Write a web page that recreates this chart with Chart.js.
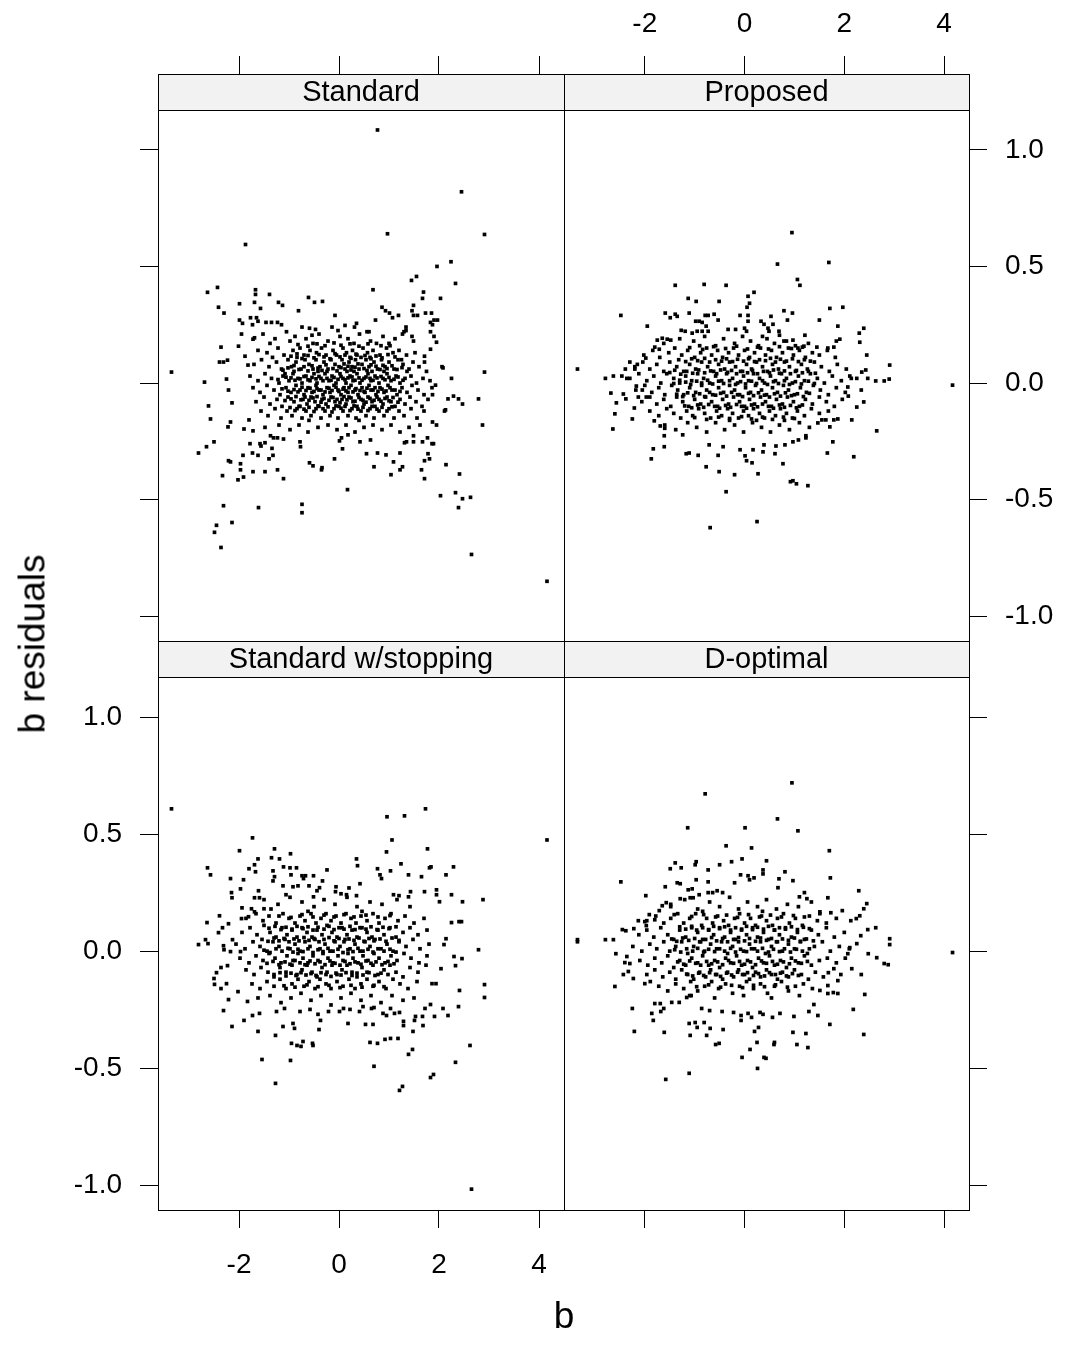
<!DOCTYPE html>
<html>
<head>
<meta charset="utf-8">
<script src="https://cdn.jsdelivr.net/npm/chart.js"></script>
<style>
body { margin: 0; background: #fff; }
#wrap { position: relative; width: 1065px; height: 1363px; overflow: hidden; }
#wrap canvas { position: absolute; left: 0; top: 0; }
.lab { position: absolute; font-family: "Liberation Sans", Arial, sans-serif; font-size: 37px; line-height: 1; color: #000; white-space: nowrap; }
#xlab { left: 564px; top: 1315px; transform: translate(-50%, -50%); }
#ylab { left: 32px; top: 644px; transform: translate(-50%, -50%) rotate(-90deg); }
</style>
</head>
<body>
<div id="wrap">
  <canvas id="c0" width="1065" height="1363"></canvas>
  <canvas id="c1" width="1065" height="1363"></canvas>
  <canvas id="c2" width="1065" height="1363"></canvas>
  <canvas id="c3" width="1065" height="1363"></canvas>
  <div class="lab" id="xlab">b</div>
  <div class="lab" id="ylab">b residuals</div>
</div>
<script>
// panel titles and axis ticks
const panelTitles = ['Standard', 'Proposed', 'Standard w/stopping', 'D-optimal'];
const xTicks = [-2, 0, 2, 4];
const yTicks = [-1, -0.5, 0, 0.5, 1];
const yTickLabels = ['-1.0', '-0.5', '0.0', '0.5', '1.0'];
const xRange = [-3.62, 4.5];
const yRange = [-1.106, 1.325];

// Standard : [b, residual]
const standardOuter = [
  [0.77,1.085],[2.45,0.82],[0.97,0.64],[2.91,0.637],[-1.87,0.594],[1.96,0.5],[2.24,0.52],[2.33,0.427],[1.45,0.44],[1.55,0.457],
  [0.68,0.4],[-2.63,0.389],[-2.43,0.41],[-1.67,0.4],[-1.67,0.38],[-1.39,0.38],[-2.41,0.325],[-2.3,0.3],[-1.99,0.34],[-1.69,0.346],
  [-1.57,0.32],[-1.21,0.346],[-1.13,0.333],[-0.81,0.31],[-0.61,0.367],[-0.49,0.346],[-0.33,0.35],[-0.08,0.29],[0.86,0.325],[0.93,0.31],
  [1.01,0.3],[1.07,0.28],[1.19,0.29],[0.73,0.27],[1.69,0.39],[1.67,0.363],[2.03,0.363],[1.49,0.333],[1.46,0.31],[1.49,0.29],
  [1.57,0.29],[1.73,0.3],[1.85,0.3],[1.9,0.27],[1.97,0.27],[1.83,0.26],[1.87,0.25],[1.83,0.22],[1.9,0.2],[1.95,0.175],
  [1.83,0.145],[1.71,0.115],[1.71,0.09],[2.06,0.07],[2.08,0.065],[2.91,0.047],[-3.35,0.047],[-2.36,0.154],[-2.39,0.09],[-2.31,0.09],
  [-2.23,0.098],[-2.01,0.158],[-1.95,0.21],[-1.99,0.27],[-1.93,0.256],[-1.77,0.28],[-1.73,0.25],[-1.65,0.28],[-1.62,0.265],[-1.46,0.26],
  [-1.35,0.26],[-1.23,0.26],[-1.15,0.25],[-1.72,0.188],[-1.69,0.194],[-1.88,0.115],[-1.82,0.077],[-0.74,0.24],[-0.59,0.235],[-0.47,0.23],
  [-0.54,0.205],[-0.14,0.24],[-0.02,0.225],[0.12,0.247],[0.31,0.24],[0.35,0.256],[0.56,0.22],[0.6,0.22],[1.34,0.24],[1.34,0.225],
  [1.27,0.21],[1.46,0.2],[1.49,0.18],
  [-2.69,0.004],[-2.25,0.017],[-2.21,-0.03],[-2.14,-0.085],[-2.61,-0.098],[-2.57,-0.154],[-2.22,-0.188],[-2.17,-0.167],[-2.5,-0.252],[-2.65,-0.273],
  [-2.81,-0.3],[-1.9,-0.197],[-1.72,-0.205],[-1.8,-0.158],[-1.78,-0.26],[-1.58,-0.26],[-1.48,-0.256],[-1.56,-0.27],[-1.34,-0.28],[-1.32,-0.31],
  [-1.4,-0.325],[-1.92,-0.31],[-1.73,-0.3],[-1.62,-0.31],[-2.21,-0.333],[-2.17,-0.338],[-1.97,-0.346],[-1.97,-0.372],[-2.33,-0.397],[-2.02,-0.415],
  [-1.91,-0.403],[-1.72,-0.38],[-1.48,-0.38],[-1.23,-0.372],[-1.11,-0.41],[-2.31,-0.526],[-1.61,-0.534],[-0.74,-0.52],[-0.74,-0.556],[-2.14,-0.598],
  [-2.45,-0.61],[-2.49,-0.64],[-2.36,-0.705],[0.17,-0.457],[-0.59,-0.342],[-0.52,-0.355],[-0.35,-0.372],[-0.34,-0.363],[-0.09,-0.325],[-0.77,-0.273],
  [-0.78,-0.252],[0.07,-0.282],[0.55,-0.303],[0.77,-0.3],[0.94,-0.308],[1.22,-0.3],[0.7,-0.359],[1.09,-0.338],[1.04,-0.393],[1.22,-0.372],
  [1.27,-0.359],[1.65,-0.372],[1.71,-0.41],[1.71,-0.333],[1.78,-0.303],[1.81,-0.325],[2.14,-0.35],[2.41,-0.39],[2.03,-0.483],[2.33,-0.47],
  [2.47,-0.496],[2.63,-0.49],[2.39,-0.534],[2.65,-0.735],[4.16,-0.85],[2.87,-0.18],[2.79,-0.068],[2.25,0.02],[2.18,-0.068],[2.29,-0.056],
  [2.39,-0.068],[2.47,-0.09],[2.11,-0.12],[2.13,-0.115],[1.93,-0.009],[1.87,-0.05],[1.95,-0.18],[1.87,-0.167],[1.49,-0.226],[1.49,-0.252],
  [1.31,-0.256],[1.35,-0.252],[1.67,-0.252],[1.77,-0.235],[1.86,-0.26],[1.89,-0.26],[0.42,-0.252],[0.63,-0.244],[0.18,-0.222],[0.01,-0.248],
  [0.05,-0.235],[-1.37,-0.226],[-1.31,-0.235],[-1.23,-0.235],[-1.11,-0.24]
];
const standardCore = [
  [-1.52,0.21],[-1.28,0.19],[-1.05,0.22],[-0.88,0.2],[-0.66,0.19],[-0.4,0.21],[-0.22,0.18],[0.02,0.2],[0.18,0.19],[0.41,0.21],
  [0.63,0.18],[0.88,0.2],[1.12,0.19],[1.3,0.22],[-1.38,0.17],[-0.98,0.18],[-0.52,0.17],[0.3,0.17],[0.75,0.17],[1.02,0.16],
  [-1.62,0.14],[-1.44,0.13],[-1.22,0.15],[-1.1,0.12],[-0.92,0.14],[-0.78,0.15],[-0.7,0.12],[-0.58,0.14],[-0.45,0.13],[-0.35,0.15],
  [-0.26,0.12],[-0.12,0.14],[-0.05,0.12],[0.08,0.15],[0.15,0.13],[0.27,0.14],[0.36,0.12],[0.48,0.15],[0.57,0.13],[0.68,0.14],
  [0.82,0.12],[0.95,0.15],[1.08,0.13],[1.2,0.14],[1.35,0.12],[1.52,0.13],[-1.33,0.11],[-0.84,0.11],[0.22,0.11],[0.62,0.11],[1.25,0.1],
  [-1.7,0.08],[-1.55,0.1],[-1.4,0.07],[-1.25,0.09],[-1.15,0.06],[-1.02,0.1],[-0.95,0.07],[-0.86,0.09],[-0.76,0.06],[-0.68,0.1],
  [-0.6,0.08],[-0.52,0.06],[-0.46,0.1],[-0.38,0.07],[-0.3,0.09],[-0.22,0.06],[-0.16,0.1],[-0.08,0.08],[0.0,0.07],[0.06,0.1],
  [0.12,0.06],[0.2,0.09],[0.26,0.07],[0.33,0.1],[0.4,0.06],[0.46,0.08],[0.54,0.1],[0.6,0.07],[0.7,0.09],[0.77,0.06],
  [0.85,0.1],[0.92,0.07],[1.0,0.09],[1.1,0.06],[1.18,0.1],[1.28,0.08],[1.4,0.06],[1.48,0.09],[1.6,0.07],[1.75,0.05],
  [-0.9,0.05],[-0.42,0.05],[0.16,0.05],[0.66,0.05],[-1.08,0.04],
  [-1.78,0.03],[-1.62,0.01],[-1.48,0.04],[-1.35,0.02],[-1.2,0.0],[-1.12,0.03],[-1.0,0.01],[-0.92,0.04],[-0.82,0.02],[-0.74,0.0],
  [-0.66,0.03],[-0.58,0.01],[-0.5,0.04],[-0.44,0.0],[-0.36,0.02],[-0.28,0.04],[-0.2,0.01],[-0.14,0.03],[-0.06,0.0],[0.02,0.04],
  [0.08,0.02],[0.14,0.0],[0.22,0.03],[0.28,0.01],[0.36,0.04],[0.42,0.0],[0.5,0.02],[0.58,0.04],[0.64,0.01],[0.72,0.03],
  [0.8,0.0],[0.88,0.02],[0.96,0.04],[1.04,0.01],[1.14,0.03],[1.22,0.0],[1.32,0.02],[1.44,0.03],[1.55,0.0],[1.68,0.02],
  [1.82,0.01],[-0.24,0.05],[0.3,0.05],[0.9,0.05],[1.36,0.05],
  [-1.72,-0.02],[-1.58,-0.04],[-1.44,-0.01],[-1.3,-0.03],[-1.18,-0.05],[-1.06,-0.02],[-0.96,-0.04],[-0.86,-0.01],[-0.78,-0.03],[-0.7,-0.05],
  [-0.62,-0.02],[-0.54,-0.04],[-0.46,-0.01],[-0.4,-0.03],[-0.32,-0.05],[-0.24,-0.02],[-0.18,-0.04],[-0.1,-0.01],[-0.02,-0.03],[0.04,-0.05],
  [0.1,-0.02],[0.18,-0.04],[0.24,-0.01],[0.32,-0.03],[0.38,-0.05],[0.46,-0.02],[0.52,-0.04],[0.6,-0.01],[0.68,-0.03],[0.74,-0.05],
  [0.82,-0.02],[0.9,-0.04],[0.98,-0.01],[1.06,-0.03],[1.16,-0.05],[1.26,-0.02],[1.36,-0.04],[1.46,-0.01],[1.58,-0.03],[1.7,-0.05],[1.86,-0.02],
  [-1.66,-0.08],[-1.5,-0.06],[-1.38,-0.09],[-1.24,-0.07],[-1.14,-0.1],[-1.02,-0.06],[-0.9,-0.08],[-0.8,-0.1],[-0.72,-0.07],[-0.64,-0.09],
  [-0.56,-0.06],[-0.48,-0.08],[-0.4,-0.1],[-0.34,-0.07],[-0.26,-0.09],[-0.16,-0.06],[-0.08,-0.08],[0.0,-0.1],[0.06,-0.07],[0.14,-0.09],
  [0.2,-0.06],[0.28,-0.08],[0.36,-0.1],[0.44,-0.07],[0.5,-0.09],[0.58,-0.06],[0.66,-0.08],[0.72,-0.1],[0.8,-0.07],[0.88,-0.09],
  [0.96,-0.06],[1.04,-0.08],[1.12,-0.1],[1.22,-0.07],[1.32,-0.09],[1.42,-0.06],[1.54,-0.08],[1.66,-0.1],[1.78,-0.07],
  [-1.56,-0.12],[-1.42,-0.14],[-1.28,-0.11],[-1.16,-0.15],[-1.04,-0.12],[-0.94,-0.14],[-0.84,-0.11],[-0.74,-0.15],[-0.66,-0.12],[-0.56,-0.14],
  [-0.46,-0.11],[-0.36,-0.15],[-0.28,-0.12],[-0.18,-0.14],[-0.1,-0.11],[-0.02,-0.15],[0.08,-0.12],[0.18,-0.14],[0.26,-0.11],[0.34,-0.15],
  [0.44,-0.12],[0.54,-0.14],[0.62,-0.11],[0.7,-0.15],[0.8,-0.12],[0.9,-0.14],[1.0,-0.11],[1.1,-0.15],[1.2,-0.12],[1.3,-0.14],
  [1.44,-0.11],[1.56,-0.15],[1.7,-0.12],[-0.6,-0.16],[0.4,-0.16],
  [-1.48,-0.19],[-1.2,-0.18],[-0.98,-0.2],[-0.8,-0.18],[-0.62,-0.21],[-0.42,-0.19],[-0.22,-0.18],[-0.04,-0.2],[0.14,-0.18],[0.32,-0.21],
  [0.5,-0.19],[0.68,-0.18],[0.86,-0.2],[1.04,-0.18],[1.22,-0.21],[1.4,-0.19],[1.62,-0.18]
];
const standardFill = [
  [-0.96,0.115],[-0.84,0.125],[-0.74,0.105],[-0.62,0.118],[-0.5,0.108],[-0.4,0.122],[-0.3,0.112],[-0.18,0.104],[-0.08,0.126],[0.02,0.112],
  [0.12,0.12],[0.24,0.106],[0.34,0.124],[0.44,0.11],[0.52,0.118],[0.64,0.104],[0.74,0.116],[0.86,0.108],[0.98,0.122],[1.12,0.112],
  [-1.12,0.055],[-1.02,0.065],[-0.9,0.075],[-0.8,0.058],[-0.7,0.07],[-0.62,0.052],[-0.54,0.074],[-0.42,0.064],[-0.34,0.054],[-0.26,0.078],
  [-0.12,0.062],[-0.04,0.052],[0.04,0.066],[0.1,0.082],[0.18,0.072],[0.24,0.056],[0.32,0.068],[0.38,0.082],[0.5,0.062],[0.56,0.054],
  [0.64,0.078],[0.74,0.072],[0.82,0.058],[0.88,0.076],[0.96,0.062],[1.06,0.074],[1.16,0.058],[1.26,0.066],
  [-1.22,0.015],[-1.06,0.025],[-0.96,0.022],[-0.88,0.012],[-0.78,0.018],[-0.7,0.028],[-0.62,0.014],[-0.54,0.024],[-0.46,0.018],[-0.4,0.028],
  [-0.32,0.01],[-0.24,0.02],[-0.16,0.012],[-0.1,0.024],[-0.02,0.016],[0.04,0.028],[0.12,0.014],[0.18,0.022],[0.26,0.026],[0.32,0.012],
  [0.4,0.022],[0.46,0.012],[0.54,0.026],[0.62,0.02],[0.68,0.012],[0.76,0.022],[0.84,0.028],[0.92,0.014],[1.0,0.024],[1.1,0.016],[1.18,0.026],[1.28,0.012],
  [-1.14,-0.025],[-1.02,-0.035],[-0.9,-0.028],[-0.82,-0.038],[-0.74,-0.018],[-0.66,-0.032],[-0.58,-0.022],[-0.5,-0.036],[-0.44,-0.024],[-0.36,-0.03],
  [-0.28,-0.038],[-0.2,-0.022],[-0.14,-0.032],[-0.06,-0.018],[0.0,-0.036],[0.08,-0.026],[0.14,-0.034],[0.2,-0.02],[0.28,-0.038],[0.34,-0.024],
  [0.42,-0.032],[0.5,-0.036],[0.56,-0.022],[0.64,-0.03],[0.72,-0.02],[0.78,-0.036],[0.86,-0.026],[0.94,-0.034],[1.02,-0.02],[1.12,-0.03],[1.22,-0.036],
  [-1.08,-0.075],[-0.96,-0.068],[-0.86,-0.058],[-0.76,-0.072],[-0.68,-0.06],[-0.6,-0.074],[-0.52,-0.064],[-0.44,-0.058],[-0.36,-0.082],[-0.3,-0.066],
  [-0.2,-0.074],[-0.12,-0.062],[-0.04,-0.07],[0.02,-0.084],[0.1,-0.058],[0.16,-0.072],[0.24,-0.064],[0.32,-0.078],[0.4,-0.062],[0.48,-0.074],
  [0.54,-0.082],[0.62,-0.066],[0.7,-0.074],[0.76,-0.06],[0.84,-0.078],[0.92,-0.066],[1.0,-0.076],[1.08,-0.062],[1.18,-0.082],
  [-0.98,-0.105],[-0.88,-0.118],[-0.78,-0.1],[-0.7,-0.112],[-0.6,-0.104],[-0.5,-0.122],[-0.42,-0.098],[-0.32,-0.11],[-0.22,-0.102],[-0.14,-0.124],
  [-0.06,-0.098],[0.04,-0.108],[0.12,-0.1],[0.22,-0.118],[0.3,-0.098],[0.38,-0.112],[0.48,-0.104],[0.58,-0.118],[0.66,-0.1],[0.76,-0.112],
  [0.86,-0.104],[0.96,-0.12],[1.06,-0.102],
  [-0.82,0.165],[-0.62,0.158],[-0.44,0.168],[-0.28,0.16],[-0.1,0.172],[0.04,0.162],[0.22,0.168],[0.4,0.158],[0.58,0.168],[0.84,0.16],[1.0,0.17]
];

// Proposed
const proposedOuter = [
  [0.95,0.645],[0.66,0.51],[1.69,0.517],[1.06,0.444],[1.11,0.419],[-1.39,0.419],[-0.81,0.423],[-0.37,0.419],[0.07,0.372],[0.19,0.389],
  [-1.13,0.363],[-0.97,0.35],[-0.51,0.35],[0.1,0.342],[0.05,0.325],[-2.48,0.29],[-1.59,0.3],[-1.49,0.28],[-1.39,0.295],[-1.35,0.286],
  [-1.11,0.3],[-0.79,0.29],[-0.73,0.29],[-0.61,0.295],[-0.53,0.27],[-0.09,0.29],[0.07,0.29],[0.07,0.265],[0.53,0.286],[0.57,0.252],
  [0.79,0.31],[0.96,0.3],[0.86,0.27],[1.71,0.32],[1.97,0.325],[1.5,0.27],[-1.95,0.244],[1.87,0.244],[1.21,0.205],[2.39,0.235],
  [2.3,0.214],[2.31,0.175],[2.45,0.12],[1.91,0.188],[1.84,0.18],[1.79,0.154],[1.67,0.15],[1.45,0.154],[2.91,0.077],[2.43,0.056],
  [2.35,0.047],[-3.35,0.06],[-2.39,0.06],[-2.3,0.09],[-2.15,0.08],[-1.98,0.107],[-2.2,0.06],[-1.8,0.154],[-1.75,0.184],[-1.65,0.192],
  [-1.55,0.188],[-1.48,0.184],[-1.71,0.145],[-1.27,0.226],[-1.19,0.222],[-1.05,0.214],[-0.95,0.222],[-0.85,0.222],[-0.73,0.222],[-0.98,0.265],
  [-0.91,0.265],[-0.85,0.26],[-0.77,0.244],[-0.33,0.23],[-0.18,0.23],[0.0,0.235],[0.04,0.222],[0.33,0.265],[0.39,0.252],[0.47,0.235],
  [0.49,0.222],[0.69,0.222],[0.7,0.205],[0.79,0.18],[0.97,0.184],[1.07,0.15],[1.19,0.158],
  [4.17,-0.009],[-2.79,0.02],[-2.63,0.03],[-2.46,0.03],[-2.36,0.02],[-2.68,-0.043],[-2.57,-0.085],[-2.6,-0.132],[-2.64,-0.197],[-2.25,-0.154],
  [-2.21,-0.107],[-2.43,-0.047],[-2.38,-0.068],[-2.17,-0.013],[-2.13,-0.06],[-1.97,-0.06],[-2.05,-0.03],[-1.81,-0.162],[-1.69,-0.184],[-1.6,-0.194],
  [-1.61,-0.226],[-1.83,-0.282],[-1.87,-0.325],[-1.61,-0.273],[-1.24,-0.222],[-1.17,-0.303],[-1.11,-0.3],[-0.93,-0.31],[-0.71,-0.265],[-0.77,-0.359],
  [-0.51,-0.38],[-0.2,-0.393],[-0.37,-0.466],[-0.53,-0.31],[-0.43,-0.273],[-0.69,-0.62],[0.25,-0.594],[0.27,-0.389],[0.15,-0.342],[0.04,-0.333],
  [0.01,-0.312],[-0.09,-0.286],[0.17,-0.286],[0.37,-0.295],[0.39,-0.265],[0.61,-0.303],[0.63,-0.27],[0.77,-0.346],[0.81,-0.265],[0.92,-0.423],
  [0.97,-0.419],[1.04,-0.432],[1.27,-0.44],[0.97,-0.252],[1.08,-0.244],[1.23,-0.235],[1.23,-0.226],[1.66,-0.3],[1.77,-0.252],[1.71,-0.188],
  [2.19,-0.316],[2.65,-0.205],[2.15,-0.158],[1.87,-0.154],[1.79,-0.158],[1.63,-0.158],[1.55,-0.158],[1.47,-0.171],[2.25,-0.103],[2.39,-0.081],
  [2.34,-0.03],[2.08,-0.056],[2.07,-0.017],[2.47,0.02],[2.63,0.009],[2.8,0.009],[2.9,0.017],[2.25,0.02],[2.11,0.03]
];
const proposedCore = [
  [-1.62,0.17],[-1.3,0.19],[-1.02,0.18],[-0.8,0.2],[-0.58,0.16],[-0.42,0.19],[-0.2,0.17],[-0.04,0.2],[0.12,0.18],[0.28,0.16],
  [0.45,0.19],[0.6,0.17],[0.84,0.18],[1.02,0.16],[1.28,0.17],[-0.9,0.16],[0.36,0.2],
  [-2.02,0.12],[-1.84,0.14],[-1.7,0.11],[-1.52,0.13],[-1.4,0.15],[-1.26,0.12],[-1.14,0.14],[-1.0,0.11],[-0.88,0.13],[-0.76,0.15],
  [-0.66,0.12],[-0.54,0.14],[-0.44,0.11],[-0.32,0.13],[-0.22,0.15],[-0.12,0.12],[0.0,0.14],[0.1,0.11],[0.2,0.13],[0.32,0.15],
  [0.42,0.12],[0.54,0.14],[0.64,0.11],[0.76,0.13],[0.88,0.15],[0.98,0.12],[1.1,0.14],[1.22,0.11],[1.36,0.13],[1.5,0.12],[1.66,0.14],[1.82,0.11],
  [-2.2,0.07],[-2.04,0.09],[-1.9,0.06],[-1.76,0.08],[-1.62,0.05],[-1.5,0.09],[-1.36,0.07],[-1.22,0.05],[-1.1,0.08],[-0.98,0.06],
  [-0.86,0.09],[-0.74,0.07],[-0.62,0.05],[-0.52,0.08],[-0.4,0.06],[-0.3,0.09],[-0.18,0.07],[-0.08,0.05],[0.04,0.08],[0.14,0.06],
  [0.24,0.09],[0.36,0.07],[0.46,0.05],[0.56,0.08],[0.68,0.06],[0.8,0.09],[0.9,0.07],[1.02,0.05],[1.14,0.08],[1.26,0.06],
  [1.4,0.09],[1.54,0.07],[1.7,0.05],[1.86,0.08],[2.04,0.06],
  [-2.3,0.02],[-2.12,0.04],[-1.96,0.01],[-1.82,0.03],[-1.68,0.0],[-1.56,0.04],[-1.42,0.02],[-1.3,0.0],[-1.18,0.03],[-1.06,0.01],
  [-0.94,0.04],[-0.82,0.02],[-0.7,0.0],[-0.58,0.03],[-0.46,0.01],[-0.36,0.04],[-0.24,0.02],[-0.14,0.0],[-0.02,0.03],[0.08,0.01],
  [0.18,0.04],[0.3,0.02],[0.4,0.0],[0.52,0.03],[0.62,0.01],[0.74,0.04],[0.84,0.02],[0.96,0.0],[1.08,0.03],[1.2,0.01],
  [1.32,0.04],[1.46,0.02],[1.6,0.0],[1.76,0.03],[1.94,0.01],[2.14,0.02],
  [-2.18,-0.03],[-2.0,-0.01],[-1.86,-0.04],[-1.72,-0.02],[-1.6,-0.05],[-1.46,-0.01],[-1.34,-0.03],[-1.22,-0.05],[-1.1,-0.02],[-0.98,-0.04],
  [-0.86,-0.01],[-0.76,-0.03],[-0.64,-0.05],[-0.52,-0.02],[-0.42,-0.04],[-0.3,-0.01],[-0.2,-0.03],[-0.1,-0.05],[0.02,-0.02],[0.12,-0.04],
  [0.22,-0.01],[0.34,-0.03],[0.44,-0.05],[0.56,-0.02],[0.66,-0.04],[0.78,-0.01],[0.88,-0.03],[1.0,-0.05],[1.12,-0.02],[1.24,-0.04],
  [1.38,-0.01],[1.52,-0.03],[1.68,-0.05],[1.84,-0.02],[2.02,-0.04],
  [-2.06,-0.08],[-1.9,-0.06],[-1.76,-0.09],[-1.62,-0.07],[-1.48,-0.1],[-1.36,-0.06],[-1.24,-0.08],[-1.12,-0.1],[-1.0,-0.07],[-0.88,-0.09],
  [-0.78,-0.06],[-0.66,-0.08],[-0.54,-0.1],[-0.44,-0.07],[-0.32,-0.09],[-0.22,-0.06],[-0.1,-0.08],[0.0,-0.1],[0.1,-0.07],[0.2,-0.09],
  [0.32,-0.06],[0.42,-0.08],[0.54,-0.1],[0.64,-0.07],[0.76,-0.09],[0.86,-0.06],[0.98,-0.08],[1.1,-0.1],[1.22,-0.07],[1.36,-0.09],
  [1.5,-0.06],[1.64,-0.08],[1.8,-0.1],[1.96,-0.07],
  [-1.9,-0.12],[-1.72,-0.14],[-1.56,-0.11],[-1.42,-0.13],[-1.28,-0.15],[-1.16,-0.12],[-1.04,-0.14],[-0.92,-0.11],[-0.8,-0.13],[-0.68,-0.15],
  [-0.56,-0.12],[-0.46,-0.14],[-0.34,-0.11],[-0.24,-0.13],[-0.12,-0.15],[-0.02,-0.12],[0.08,-0.14],[0.18,-0.11],[0.3,-0.13],[0.4,-0.15],
  [0.5,-0.12],[0.62,-0.14],[0.72,-0.11],[0.84,-0.13],[0.96,-0.15],[1.06,-0.12],[1.2,-0.14],[1.34,-0.11],[1.5,-0.13],[1.68,-0.12],
  [-1.6,-0.18],[-1.38,-0.2],[-1.14,-0.17],[-0.96,-0.19],[-0.76,-0.21],[-0.58,-0.17],[-0.4,-0.2],[-0.2,-0.18],[-0.02,-0.21],[0.16,-0.17],
  [0.34,-0.19],[0.52,-0.21],[0.7,-0.18],[0.9,-0.2],[1.1,-0.17],[1.3,-0.19],[-0.3,-0.16],[0.24,-0.16],[0.8,-0.16]
];
const proposedFill = [
  [-1.32,0.1],[-1.18,0.092],[-1.06,0.104],[-0.94,0.096],[-0.8,0.106],[-0.7,0.09],[-0.58,0.1],[-0.46,0.094],[-0.36,0.104],[-0.24,0.092],
  [-0.14,0.102],[-0.02,0.094],[0.08,0.104],[0.2,0.092],[0.3,0.1],[0.42,0.096],[0.52,0.106],[0.62,0.09],[0.72,0.102],[0.84,0.094],
  [0.96,0.104],[1.08,0.092],[1.2,0.1],[1.32,0.094],
  [-1.5,0.045],[-1.4,0.055],[-1.28,0.038],[-1.16,0.05],[-1.04,0.042],[-0.92,0.056],[-0.8,0.044],[-0.68,0.052],[-0.56,0.04],[-0.48,0.056],
  [-0.34,0.046],[-0.26,0.054],[-0.16,0.04],[-0.04,0.05],[0.06,0.044],[0.16,0.054],[0.26,0.04],[0.38,0.05],[0.5,0.044],[0.58,0.056],
  [0.7,0.042],[0.8,0.052],[0.92,0.04],[1.04,0.054],[1.16,0.044],[1.28,0.05],[1.42,0.042],
  [-1.42,-0.002],[-1.3,0.012],[-1.18,0.004],[-1.08,-0.006],[-0.96,0.008],[-0.86,0.0],[-0.74,0.012],[-0.64,-0.004],[-0.52,0.008],[-0.42,-0.002],
  [-0.3,0.01],[-0.18,-0.006],[-0.08,0.006],[0.02,-0.004],[0.14,0.008],[0.24,-0.002],[0.36,0.01],[0.46,-0.006],[0.58,0.006],[0.68,-0.002],
  [0.8,0.01],[0.9,-0.006],[1.02,0.006],[1.14,-0.004],[1.28,0.008],[1.4,-0.002],
  [-1.36,-0.048],[-1.24,-0.058],[-1.14,-0.042],[-1.02,-0.054],[-0.9,-0.046],[-0.8,-0.058],[-0.7,-0.04],[-0.58,-0.052],[-0.48,-0.044],[-0.36,-0.056],
  [-0.26,-0.04],[-0.14,-0.05],[-0.04,-0.058],[0.08,-0.044],[0.18,-0.054],[0.28,-0.042],[0.4,-0.052],[0.5,-0.06],[0.6,-0.046],[0.72,-0.056],
  [0.82,-0.042],[0.94,-0.054],[1.06,-0.046],[1.18,-0.058],[1.3,-0.044],
  [-1.2,-0.098],[-1.06,-0.106],[-0.94,-0.094],[-0.82,-0.104],[-0.72,-0.092],[-0.6,-0.1],[-0.5,-0.108],[-0.38,-0.096],[-0.28,-0.104],[-0.16,-0.092],
  [-0.06,-0.1],[0.04,-0.108],[0.14,-0.094],[0.26,-0.102],[0.36,-0.09],[0.48,-0.1],[0.58,-0.108],[0.7,-0.094],[0.8,-0.104],[0.92,-0.096],
  [1.04,-0.106],[1.16,-0.094],
  [-1.1,0.152],[-0.84,0.144],[-0.62,0.156],[-0.38,0.148],[-0.16,0.158],[0.06,0.146],[0.26,0.154],[0.48,0.146],[0.7,0.156],[0.94,0.148],[1.16,0.154],
  [-1.0,-0.148],[-0.76,-0.156],[-0.52,-0.146],[-0.3,-0.152],[-0.06,-0.144],[0.14,-0.154],[0.36,-0.146],[0.56,-0.156],[0.78,-0.146],[1.0,-0.152]
];

// Standard w/stopping
const stoppingOuter = [
  [-3.35,0.608],[4.16,0.475],[0.96,0.574],[1.31,0.578],[1.73,0.608],[1.06,0.475],[0.95,0.424],[1.77,0.437],[-1.73,0.484],[-1.99,0.429],
  [-1.29,0.437],[-0.97,0.416],[-2.63,0.356],[-2.57,0.326],[-1.62,0.394],[-1.69,0.369],[-1.67,0.339],[-1.8,0.352],[-1.35,0.399],[-1.19,0.394],
  [-1.32,0.343],[-1.11,0.36],[-0.98,0.356],[-0.85,0.356],[-0.96,0.326],[-1.29,0.318],[-1.32,0.3],[-2.17,0.31],[-1.91,0.305],[-2.15,0.25],
  [-1.97,0.266],[-2.14,0.228],[-0.74,0.322],[-0.67,0.322],[-0.51,0.322],[-0.71,0.31],[-0.33,0.3],[-0.24,0.347],[0.35,0.394],[0.37,0.365],
  [0.42,0.288],[0.77,0.352],[0.82,0.326],[0.85,0.31],[1.03,0.343],[1.24,0.373],[1.39,0.326],[1.65,0.318],[1.81,0.356],[1.84,0.36],
  [2.29,0.36],[2.14,0.326],[2.88,0.22],[2.47,0.211],[2.25,0.241],[1.95,0.262],[1.95,0.241],[2.01,0.211],[1.71,0.254],[1.43,0.254],
  [1.39,0.232],[1.2,0.237],[1.09,0.241],[2.25,0.122],[2.4,0.126],[2.45,0.126],[2.14,0.053],[-2.64,0.122],[-2.39,0.151],[-2.21,0.117],
  [-2.33,0.1],[-2.41,0.079],[-2.67,0.049],[-2.13,0.049],[-0.06,0.275],[0.04,0.245],[0.2,0.27],[0.15,0.241],[0.35,0.237],[-0.07,0.254],
  [-0.6,0.279],[-0.44,0.258],[-0.39,0.271],[-0.51,0.232],[-1.06,0.241],[-0.92,0.275],[-0.82,0.279],[-1.12,0.279],[-1.61,0.258],[-1.69,0.228],
  [-1.59,0.228],[-1.94,0.185],[-1.75,0.181],[-1.69,0.168],[-1.5,0.181],[-1.95,0.139],[-1.81,0.147],
  [2.65,-1.017],[-1.27,-0.565],[-1.54,-0.463],[-0.97,-0.467],[-0.95,-0.394],[-0.84,-0.403],[-0.76,-0.407],[-0.72,-0.386],[-0.53,-0.394],[-0.52,-0.403],
  [-1.27,-0.36],[-1.62,-0.343],[-2.14,-0.322],[-1.9,-0.296],[-2.31,-0.254],[-2.21,-0.207],[-2.5,-0.117],[-2.49,-0.142],[-2.36,-0.16],[-2.25,-0.139],
  [-2.45,-0.092],[-2.36,-0.07],[-2.23,-0.062],[-2.02,-0.173],[-1.83,-0.215],[-2.81,0.028],[-2.62,0.032],[-2.31,0.023],[-2.17,-0.002],[-1.97,-0.002],
  [-2.3,0.006],[-1.73,-0.275],[-1.59,-0.266],[-1.25,-0.258],[-1.09,-0.245],[-1.12,-0.322],[-0.92,-0.309],[-0.89,-0.33],[-0.78,-0.258],[-0.58,-0.249],
  [-0.42,-0.27],[-0.37,-0.296],[-0.4,-0.335],[-0.21,-0.258],[0.18,-0.309],[0.53,-0.313],[0.68,-0.313],[0.7,-0.492],[0.62,-0.39],[0.77,-0.394],
  [0.92,-0.377],[1.03,-0.373],[1.18,-0.373],[1.21,-0.595],[1.27,-0.578],[1.39,-0.441],[1.47,-0.42],[1.83,-0.54],[1.89,-0.527],[2.33,-0.475],
  [2.62,-0.403],[2.91,-0.143],[2.91,-0.198],[2.79,0.006],[2.41,-0.168],[2.39,-0.237],[2.18,-0.275],[2.08,-0.245],[1.91,-0.279],[1.67,-0.279],
  [1.68,-0.318],[1.48,-0.343],[1.29,-0.3],[1.29,-0.318],[1.51,-0.296],[1.53,-0.279],[1.72,-0.245],[1.83,-0.228],[2.3,-0.023],[2.46,-0.032],
  [2.33,-0.062],[2.1,0.028],[2.04,-0.075],[1.94,-0.139],[1.86,-0.139],[0.88,-0.266],[0.95,-0.275],[1.11,-0.266],[1.21,-0.262],[1.03,-0.245],
  [0.01,-0.258],[0.09,-0.245],[0.22,-0.249],[0.41,-0.258],[0.48,-0.237],[0.65,-0.245],[0.7,-0.241]
];
const stoppingCore = [
  [-1.5,0.22],[-1.22,0.2],[-0.98,0.23],[-0.74,0.21],[-0.5,0.19],[-0.3,0.22],[-0.08,0.2],[0.16,0.23],[0.36,0.19],[0.62,0.21],
  [0.86,0.2],[1.16,0.22],[1.42,0.19],[-1.36,0.18],[-0.62,0.17],[0.46,0.17],
  [-1.86,0.14],[-1.66,0.16],[-1.52,0.13],[-1.4,0.15],[-1.26,0.12],[-1.12,0.16],[-1.0,0.14],[-0.88,0.12],[-0.78,0.15],[-0.68,0.13],
  [-0.56,0.16],[-0.46,0.12],[-0.36,0.14],[-0.26,0.16],[-0.16,0.13],[-0.06,0.15],[0.04,0.12],[0.14,0.16],[0.24,0.14],[0.34,0.12],
  [0.44,0.15],[0.56,0.13],[0.68,0.16],[0.8,0.12],[0.92,0.14],[1.04,0.16],[1.18,0.13],[1.32,0.15],[1.5,0.12],[1.7,0.14],
  [-1.94,0.08],[-1.78,0.1],[-1.64,0.07],[-1.5,0.11],[-1.38,0.08],[-1.26,0.06],[-1.14,0.1],[-1.04,0.07],[-0.94,0.09],[-0.84,0.06],
  [-0.74,0.1],[-0.64,0.08],[-0.54,0.06],[-0.44,0.09],[-0.34,0.07],[-0.24,0.11],[-0.14,0.08],[-0.04,0.06],[0.06,0.1],[0.16,0.07],
  [0.26,0.09],[0.36,0.06],[0.46,0.1],[0.56,0.08],[0.66,0.06],[0.78,0.09],[0.9,0.07],[1.02,0.1],[1.14,0.06],[1.28,0.08],
  [1.42,0.1],[1.58,0.07],[1.76,0.09],
  [-2.06,0.03],[-1.88,0.01],[-1.72,0.04],[-1.58,0.02],[-1.44,0.0],[-1.32,0.04],[-1.2,0.02],[-1.08,0.05],[-0.98,0.01],[-0.88,0.03],
  [-0.78,0.0],[-0.68,0.04],[-0.58,0.02],[-0.48,0.05],[-0.38,0.01],[-0.28,0.03],[-0.18,0.0],[-0.08,0.04],[0.02,0.02],[0.12,0.05],
  [0.22,0.01],[0.32,0.03],[0.42,0.0],[0.52,0.04],[0.62,0.02],[0.72,0.05],[0.84,0.01],[0.96,0.03],[1.08,0.0],[1.2,0.04],
  [1.34,0.02],[1.48,0.05],[1.62,0.01],[1.8,0.03],
  [-1.98,-0.03],[-1.8,-0.05],[-1.66,-0.02],[-1.52,-0.04],[-1.4,-0.01],[-1.28,-0.03],[-1.16,-0.05],[-1.04,-0.02],[-0.92,-0.04],[-0.82,-0.01],
  [-0.72,-0.03],[-0.62,-0.05],[-0.52,-0.02],[-0.42,-0.04],[-0.32,-0.01],[-0.22,-0.03],[-0.12,-0.05],[-0.02,-0.02],[0.08,-0.04],[0.18,-0.01],
  [0.28,-0.03],[0.38,-0.05],[0.48,-0.02],[0.58,-0.04],[0.7,-0.01],[0.8,-0.03],[0.92,-0.05],[1.04,-0.02],[1.16,-0.04],[1.3,-0.01],
  [1.44,-0.03],[1.6,-0.05],[1.76,-0.02],
  [-1.86,-0.08],[-1.7,-0.1],[-1.56,-0.07],[-1.42,-0.09],[-1.3,-0.11],[-1.18,-0.07],[-1.06,-0.09],[-0.94,-0.06],[-0.84,-0.1],[-0.74,-0.08],
  [-0.64,-0.06],[-0.54,-0.09],[-0.44,-0.11],[-0.34,-0.07],[-0.24,-0.09],[-0.14,-0.06],[-0.04,-0.1],[0.06,-0.08],[0.16,-0.06],[0.26,-0.09],
  [0.36,-0.11],[0.46,-0.07],[0.56,-0.09],[0.68,-0.06],[0.78,-0.1],[0.9,-0.08],[1.02,-0.06],[1.14,-0.09],[1.28,-0.11],[1.42,-0.07],
  [1.58,-0.09],[1.74,-0.06],
  [-1.74,-0.14],[-1.58,-0.16],[-1.44,-0.13],[-1.3,-0.15],[-1.18,-0.12],[-1.06,-0.16],[-0.94,-0.14],[-0.82,-0.12],[-0.7,-0.15],[-0.6,-0.13],
  [-0.48,-0.16],[-0.38,-0.12],[-0.26,-0.14],[-0.16,-0.16],[-0.04,-0.13],[0.08,-0.15],[0.2,-0.12],[0.32,-0.16],[0.44,-0.14],[0.56,-0.12],
  [0.68,-0.15],[0.8,-0.13],[0.94,-0.16],[1.08,-0.12],[1.22,-0.14],[1.38,-0.16],[1.56,-0.13],
  [-1.62,-0.2],[-1.38,-0.19],[-1.16,-0.22],[-0.96,-0.2],[-0.76,-0.18],[-0.56,-0.21],[-0.36,-0.19],[-0.16,-0.23],[0.04,-0.2],[0.24,-0.18],
  [0.44,-0.21],[0.64,-0.19],[0.84,-0.22],[1.06,-0.19],[1.28,-0.21],[1.5,-0.2]
];
const stoppingFill = [
  [-1.4,0.098],[-1.28,0.106],[-1.16,0.092],[-1.06,0.102],[-0.94,0.094],[-0.84,0.106],[-0.72,0.096],[-0.62,0.104],[-0.52,0.09],[-0.42,0.102],
  [-0.3,0.094],[-0.2,0.106],[-0.1,0.092],[0.0,0.1],[0.1,0.094],[0.22,0.106],[0.32,0.092],[0.42,0.1],[0.54,0.094],[0.64,0.104],
  [0.76,0.092],[0.88,0.102],[1.0,0.096],[1.14,0.104],
  [-1.54,0.05],[-1.42,0.042],[-1.3,0.056],[-1.2,0.044],[-1.1,0.054],[-1.0,0.04],[-0.9,0.052],[-0.8,0.044],[-0.7,0.058],[-0.6,0.046],
  [-0.5,0.054],[-0.4,0.04],[-0.3,0.05],[-0.2,0.058],[-0.1,0.044],[0.0,0.054],[0.1,0.04],[0.2,0.052],[0.3,0.046],[0.4,0.056],
  [0.5,0.042],[0.6,0.054],[0.7,0.044],[0.82,0.052],[0.94,0.042],[1.06,0.056],[1.2,0.046],
  [-1.5,0.004],[-1.38,-0.006],[-1.26,0.01],[-1.14,0.0],[-1.02,0.012],[-0.92,-0.004],[-0.82,0.008],[-0.72,-0.002],[-0.62,0.01],[-0.52,-0.006],
  [-0.42,0.006],[-0.32,-0.002],[-0.22,0.012],[-0.12,0.0],[-0.02,0.008],[0.08,-0.006],[0.18,0.006],[0.28,-0.002],[0.38,0.012],[0.48,0.0],
  [0.58,0.008],[0.68,-0.004],[0.78,0.01],[0.9,0.0],[1.02,0.008],[1.14,-0.004],
  [-1.44,-0.052],[-1.32,-0.044],[-1.2,-0.058],[-1.08,-0.046],[-0.98,-0.056],[-0.88,-0.04],[-0.78,-0.05],[-0.68,-0.058],[-0.58,-0.042],[-0.48,-0.054],
  [-0.38,-0.046],[-0.28,-0.058],[-0.18,-0.042],[-0.08,-0.052],[0.02,-0.06],[0.12,-0.044],[0.22,-0.054],[0.32,-0.046],[0.44,-0.056],[0.54,-0.042],
  [0.64,-0.052],[0.74,-0.046],[0.86,-0.058],[0.98,-0.044],[1.1,-0.054],
  [-1.3,-0.1],[-1.18,-0.092],[-1.06,-0.106],[-0.96,-0.094],[-0.86,-0.104],[-0.76,-0.092],[-0.66,-0.102],[-0.56,-0.096],[-0.46,-0.104],[-0.36,-0.092],
  [-0.26,-0.1],[-0.16,-0.108],[-0.06,-0.094],[0.04,-0.102],[0.14,-0.092],[0.26,-0.104],[0.36,-0.094],[0.48,-0.102],[0.6,-0.092],[0.72,-0.104],
  [0.84,-0.094],[0.98,-0.1],
  [-1.2,0.15],[-0.96,0.144],[-0.74,0.156],[-0.52,0.146],[-0.3,0.154],[-0.1,0.146],[0.1,0.156],[0.3,0.146],[0.54,0.154],[0.78,0.146],[1.02,0.152],
  [-1.1,-0.148],[-0.88,-0.154],[-0.64,-0.144],[-0.42,-0.152],[-0.2,-0.146],[0.02,-0.156],[0.24,-0.146],[0.46,-0.154],[0.7,-0.146],[0.9,-0.152]
];

// D-optimal
const doptOuter = [
  [0.95,0.719],[-0.79,0.672],[0.66,0.565],[-1.14,0.527],[0.01,0.527],[1.07,0.514],[-0.37,0.45],[0.14,0.441],[1.7,0.429],[-1.39,0.377],
  [-0.97,0.382],[-0.99,0.369],[-1.49,0.352],[-1.27,0.356],[-0.73,0.347],[-0.5,0.369],[-0.26,0.382],[-0.05,0.394],[0.44,0.386],[-2.48,0.296],
  [-1.98,0.237],[-1.59,0.275],[-1.35,0.292],[-1.29,0.288],[-1.13,0.262],[-1.05,0.266],[-0.97,0.305],[-0.73,0.296],[-0.2,0.292],[-0.08,0.326],
  [0.07,0.322],[0.19,0.313],[0.1,0.305],[0.37,0.347],[0.37,0.33],[0.69,0.309],[0.67,0.271],[0.81,0.339],[0.97,0.301],[1.72,0.313],
  [1.67,0.228],[2.29,0.258],[1.96,0.173],[2.13,0.13],[2.24,0.139],[2.31,0.151],[2.39,0.181],[2.45,0.203],[1.2,0.25],[1.1,0.232],
  [1.25,0.224],[1.51,0.168],[1.51,0.16],[1.73,0.164],[2.33,0.066],[2.47,0.092],[2.63,0.1],[2.91,0.053],[-2.45,0.092],[-2.38,0.087],
  [-2.22,0.096],[-2.13,0.13],[-2.0,0.126],[-1.97,0.109],[-1.91,0.156],[-1.8,0.134],[-1.71,0.173],[-1.65,0.194],[-1.57,0.207],[-1.48,0.19],
  [-1.41,0.156],[-1.29,0.224],[-1.09,0.228],[-1.03,0.228],[-0.91,0.241],[-0.73,0.25],[-0.64,0.25],[-0.55,0.258],[-0.44,0.25],[-3.35,0.049],
  [-2.79,0.049],[-2.63,0.049],
  [4.17,-0.006],[-3.35,0.04],[-1.58,-0.548],[-1.11,-0.522],[0.26,-0.501],[-0.05,-0.454],[0.39,-0.454],[0.43,-0.458],[0.11,-0.42],[0.25,-0.39],
  [0.6,-0.39],[0.59,-0.399],[-0.58,-0.399],[-0.51,-0.394],[-0.43,-0.335],[-0.76,-0.36],[-1.09,-0.36],[-1.11,-0.309],[-0.99,-0.305],[-0.95,-0.326],
  [-0.81,-0.305],[-0.69,-0.33],[-2.21,-0.343],[-1.61,-0.347],[-1.83,-0.296],[-1.86,-0.266],[-1.68,-0.258],[-1.62,-0.245],[-1.69,-0.224],[-1.8,-0.224],
  [-2.25,-0.245],[-2.6,-0.151],[-2.23,-0.117],[-2.43,-0.1],[-2.33,-0.087],[-2.58,-0.011],[-2.36,-0.023],[-2.4,-0.049],[-2.3,-0.053],[-1.46,-0.219],
  [-1.31,-0.219],[-1.16,-0.198],[-1.07,-0.19],[-0.86,-0.245],[-0.7,-0.254],[-0.45,-0.258],[-0.22,-0.262],[-0.07,-0.275],[-0.07,-0.296],[0.07,-0.266],
  [0.14,-0.283],[0.2,-0.343],[0.28,-0.326],[0.31,-0.262],[0.37,-0.27],[0.56,-0.283],[0.71,-0.266],[0.97,-0.347],[1.23,-0.352],[1.05,-0.399],
  [1.27,-0.412],[0.99,-0.279],[1.29,-0.258],[1.47,-0.275],[1.71,-0.313],[1.39,-0.228],[2.39,-0.356],[2.18,-0.249],[2.41,-0.185],[2.15,-0.075],
  [2.34,-0.1],[2.48,-0.011],[2.65,-0.028],[2.8,-0.053],[2.88,-0.058],[2.91,0.028],[2.25,0.032],[2.11,0.015],[2.07,-0.011],[1.87,-0.181],
  [1.78,-0.177],[1.67,-0.181],[1.51,-0.168],[1.67,-0.147],[1.87,-0.126],[1.93,-0.1],[1.79,-0.075],[1.68,-0.092],[-2.0,-0.139],[-1.89,-0.13]
];
const doptCore = [
  [-1.48,0.2],[-1.2,0.22],[-0.94,0.18],[-0.7,0.21],[-0.5,0.19],[-0.3,0.23],[-0.12,0.18],[0.06,0.21],[0.26,0.19],[0.44,0.22],
  [0.64,0.18],[0.86,0.2],[1.08,0.19],[1.34,0.21],[-0.84,0.17],[0.36,0.17],
  [-1.96,0.13],[-1.78,0.15],[-1.62,0.12],[-1.48,0.14],[-1.34,0.16],[-1.22,0.12],[-1.1,0.14],[-0.98,0.16],[-0.86,0.11],[-0.76,0.14],
  [-0.64,0.12],[-0.54,0.15],[-0.42,0.13],[-0.32,0.11],[-0.2,0.14],[-0.1,0.16],[0.0,0.12],[0.12,0.14],[0.22,0.11],[0.34,0.15],
  [0.44,0.13],[0.56,0.11],[0.66,0.14],[0.78,0.16],[0.9,0.12],[1.02,0.14],[1.16,0.11],[1.3,0.15],[1.46,0.13],[1.64,0.12],[1.84,0.14],
  [-2.12,0.07],[-1.96,0.09],[-1.82,0.06],[-1.68,0.1],[-1.54,0.07],[-1.42,0.05],[-1.3,0.09],[-1.18,0.06],[-1.06,0.1],[-0.94,0.08],
  [-0.84,0.05],[-0.72,0.09],[-0.62,0.07],[-0.5,0.1],[-0.4,0.06],[-0.28,0.08],[-0.18,0.05],[-0.06,0.09],[0.04,0.07],[0.16,0.1],
  [0.26,0.06],[0.38,0.08],[0.48,0.05],[0.6,0.09],[0.7,0.07],[0.82,0.1],[0.94,0.06],[1.06,0.08],[1.2,0.05],[1.34,0.09],
  [1.48,0.07],[1.64,0.1],[1.8,0.06],[2.0,0.08],
  [-2.24,0.02],[-2.06,0.0],[-1.9,0.03],[-1.76,0.01],[-1.62,0.04],[-1.5,0.0],[-1.38,0.02],[-1.26,0.04],[-1.14,-0.01],[-1.02,0.02],
  [-0.9,0.04],[-0.8,0.0],[-0.68,0.03],[-0.56,0.01],[-0.46,0.04],[-0.34,-0.01],[-0.24,0.02],[-0.12,0.04],[-0.02,0.0],[0.1,0.03],
  [0.2,0.01],[0.32,0.04],[0.42,-0.01],[0.54,0.02],[0.64,0.04],[0.76,0.0],[0.88,0.03],[1.0,0.01],[1.12,0.04],[1.26,-0.01],
  [1.4,0.02],[1.56,0.04],[1.72,0.0],[1.9,0.02],[2.1,0.01],
  [-2.1,-0.04],[-1.94,-0.06],[-1.8,-0.03],[-1.66,-0.05],[-1.54,-0.02],[-1.42,-0.07],[-1.3,-0.04],[-1.18,-0.06],[-1.06,-0.03],[-0.94,-0.05],
  [-0.84,-0.02],[-0.72,-0.06],[-0.6,-0.04],[-0.5,-0.07],[-0.38,-0.03],[-0.28,-0.05],[-0.16,-0.02],[-0.06,-0.06],[0.06,-0.04],[0.16,-0.07],
  [0.28,-0.03],[0.38,-0.05],[0.5,-0.02],[0.6,-0.06],[0.72,-0.04],[0.84,-0.07],[0.94,-0.03],[1.08,-0.05],[1.2,-0.02],[1.34,-0.06],
  [1.5,-0.04],[1.66,-0.03],[1.84,-0.05],[2.02,-0.03],
  [-1.96,-0.1],[-1.8,-0.08],[-1.64,-0.11],[-1.5,-0.09],[-1.38,-0.12],[-1.26,-0.08],[-1.14,-0.1],[-1.02,-0.12],[-0.9,-0.09],[-0.78,-0.11],
  [-0.68,-0.08],[-0.56,-0.1],[-0.44,-0.12],[-0.34,-0.09],[-0.22,-0.11],[-0.12,-0.08],[0.0,-0.1],[0.1,-0.12],[0.22,-0.09],[0.32,-0.11],
  [0.44,-0.08],[0.54,-0.1],[0.66,-0.12],[0.76,-0.09],[0.88,-0.11],[1.0,-0.08],[1.14,-0.1],[1.28,-0.12],[1.42,-0.09],[1.58,-0.11],
  [-1.72,-0.15],[-1.54,-0.17],[-1.38,-0.14],[-1.22,-0.16],[-1.08,-0.13],[-0.94,-0.17],[-0.8,-0.15],[-0.66,-0.13],[-0.52,-0.16],[-0.38,-0.14],
  [-0.24,-0.18],[-0.1,-0.15],[0.04,-0.13],[0.18,-0.16],[0.32,-0.14],[0.46,-0.18],[0.6,-0.15],[0.74,-0.13],[0.88,-0.17],[1.02,-0.15],
  [1.18,-0.14],[1.36,-0.16],[-1.1,-0.19],[-0.6,-0.2],[-0.02,-0.19],[0.54,-0.2],[1.1,-0.19]
];
const doptFill = [
  [-1.3,0.104],[-1.18,0.094],[-1.06,0.106],[-0.96,0.09],[-0.84,0.1],[-0.72,0.092],[-0.62,0.106],[-0.5,0.096],[-0.4,0.104],[-0.28,0.09],
  [-0.18,0.1],[-0.06,0.094],[0.04,0.106],[0.16,0.092],[0.26,0.102],[0.38,0.094],[0.48,0.106],[0.6,0.09],[0.7,0.1],[0.82,0.094],
  [0.94,0.104],[1.06,0.092],[1.18,0.102],[1.3,0.096],
  [-1.46,0.052],[-1.36,0.042],[-1.24,0.056],[-1.12,0.046],[-1.0,0.054],[-0.88,0.04],[-0.78,0.05],[-0.66,0.058],[-0.56,0.044],[-0.44,0.054],
  [-0.34,0.04],[-0.22,0.05],[-0.12,0.058],[0.0,0.044],[0.1,0.054],[0.22,0.042],[0.32,0.056],[0.44,0.046],[0.54,0.054],[0.66,0.04],
  [0.76,0.052],[0.88,0.046],[1.0,0.056],[1.12,0.042],[1.24,0.052],[1.38,0.044],
  [-1.4,0.006],[-1.28,-0.004],[-1.16,0.01],[-1.04,0.0],[-0.94,0.012],[-0.82,-0.004],[-0.72,0.008],[-0.6,-0.002],[-0.5,0.01],[-0.4,0.0],
  [-0.28,0.012],[-0.18,-0.004],[-0.08,0.008],[0.04,-0.002],[0.14,0.01],[0.26,0.0],[0.36,0.012],[0.48,-0.004],[0.58,0.008],[0.7,-0.002],
  [0.8,0.01],[0.92,-0.004],[1.04,0.008],[1.16,0.0],[1.3,0.01],
  [-1.34,-0.046],[-1.22,-0.056],[-1.1,-0.042],[-0.98,-0.052],[-0.88,-0.06],[-0.76,-0.044],[-0.66,-0.054],[-0.54,-0.046],[-0.44,-0.058],[-0.32,-0.04],
  [-0.22,-0.052],[-0.1,-0.044],[0.0,-0.056],[0.12,-0.046],[0.22,-0.058],[0.34,-0.042],[0.44,-0.052],[0.56,-0.044],[0.66,-0.056],[0.78,-0.046],
  [0.9,-0.054],[1.02,-0.042],[1.14,-0.052],[1.26,-0.044],
  [-1.16,-0.098],[-1.04,-0.106],[-0.92,-0.094],[-0.82,-0.104],[-0.7,-0.092],[-0.58,-0.1],[-0.48,-0.108],[-0.36,-0.094],[-0.26,-0.102],[-0.14,-0.09],
  [-0.04,-0.1],[0.06,-0.092],[0.18,-0.104],[0.28,-0.096],[0.4,-0.106],[0.5,-0.092],[0.62,-0.1],[0.72,-0.094],[0.84,-0.106],[0.96,-0.096],[1.08,-0.104],
  [-1.06,0.148],[-0.82,0.156],[-0.58,0.146],[-0.36,0.154],[-0.14,0.144],[0.08,0.156],[0.3,0.146],[0.52,0.154],[0.74,0.146],[0.98,0.152],[1.2,0.146],
  [-0.96,-0.152],[-0.72,-0.144],[-0.48,-0.154],[-0.26,-0.146],[-0.04,-0.156],[0.18,-0.146],[0.4,-0.152],[0.62,-0.144],[0.86,-0.154]
];

const FONT = '"Liberation Sans", Arial, Helvetica, sans-serif';
const STRIP_H = 36;
const W = 1065, H = 1363;
const X_AXIS_H = 70, Y_AXIS_W = 90;

// strip + panel frame
const stripPlugin = {
  id: 'strip',
  afterDraw(chart, args, opts) {
    const { ctx, chartArea: a } = chart;
    ctx.save();
    ctx.fillStyle = '#f2f2f2';
    ctx.fillRect(a.left, a.top, a.right - a.left, STRIP_H);
    ctx.strokeStyle = '#000';
    ctx.lineWidth = 1;
    ctx.beginPath();
    ctx.moveTo(a.left, a.top + STRIP_H + 0.5);
    ctx.lineTo(a.right, a.top + STRIP_H + 0.5);
    ctx.stroke();
    ctx.strokeRect(a.left + 0.5, a.top + 0.5, a.right - a.left, a.bottom - a.top);
    ctx.fillStyle = '#000';
    ctx.font = '29px ' + FONT;
    ctx.textAlign = 'center';
    ctx.textBaseline = 'middle';
    ctx.fillText(opts.title, (a.left + a.right) / 2, a.top + STRIP_H / 2 + 1);
    ctx.restore();
  }
};

function xAxis(pos, showLabels) {
  return {
    type: 'linear', position: pos, min: xRange[0], max: xRange[1],
    afterBuildTicks: s => { s.ticks = xTicks.map(v => ({ value: v })); },
    afterFit: s => { s.height = showLabels ? X_AXIS_H : 0; },
    grid: { drawOnChartArea: false, drawTicks: true, tickLength: 18, color: '#000', lineWidth: 1 },
    border: { display: false },
    ticks: {
      display: showLabels, color: '#000', font: { family: FONT, size: 28 },
      padding: pos === 'top' ? 15 : 20, maxRotation: 0, autoSkip: false,
      callback: v => String(v)
    }
  };
}

function yAxis(pos, showLabels) {
  return {
    type: 'linear', position: pos, min: yRange[0], max: yRange[1],
    afterBuildTicks: s => { s.ticks = yTicks.map(v => ({ value: v })); },
    afterFit: s => { s.width = showLabels ? Y_AXIS_W : 0; },
    grid: { drawOnChartArea: false, drawTicks: true, tickLength: 18, color: '#000', lineWidth: 1 },
    border: { display: false },
    ticks: {
      display: showLabels, color: '#000', font: { family: FONT, size: 28 },
      padding: 18, autoSkip: false,
      callback: v => yTickLabels[yTicks.indexOf(v)]
    }
  };
}

const panels = [
  { id: 'c0', title: panelTitles[0], pts: standardOuter.concat(standardCore, standardFill), box: [158, 74, 564, 641], xPos: 'top', xLab: false, yPos: 'left', yLab: false },
  { id: 'c1', title: panelTitles[1], pts: proposedOuter.concat(proposedCore, proposedFill), box: [564, 74, 969, 641], xPos: 'top', xLab: true, yPos: 'right', yLab: true },
  { id: 'c2', title: panelTitles[2], pts: stoppingOuter.concat(stoppingCore, stoppingFill), box: [158, 641, 564, 1210], xPos: 'bottom', xLab: true, yPos: 'left', yLab: true },
  { id: 'c3', title: panelTitles[3], pts: doptOuter.concat(doptCore, doptFill), box: [564, 641, 969, 1210], xPos: 'bottom', xLab: false, yPos: 'right', yLab: false }
];

panels.forEach(p => {
  const [l, t, r, b] = p.box;
  const xs = p.xLab ? X_AXIS_H : 0;
  const ys = p.yLab ? Y_AXIS_W : 0;
  const pad = {
    left: l - (p.yPos === 'left' ? ys : 0),
    right: W - r - (p.yPos === 'right' ? ys : 0),
    top: t - (p.xPos === 'top' ? xs : 0),
    bottom: H - b - (p.xPos === 'bottom' ? xs : 0)
  };
  new Chart(document.getElementById(p.id), {
    type: 'scatter',
    data: {
      datasets: [{
        data: p.pts.map(d => ({ x: d[0], y: d[1] })),
        pointStyle: 'rect',
        pointRadius: 2.6,
        pointBorderWidth: 0,
        backgroundColor: '#000',
        borderColor: '#000'
      }]
    },
    options: {
      responsive: false,
      animation: false,
      events: [],
      layout: { padding: pad },
      plugins: {
        legend: { display: false },
        tooltip: { enabled: false },
        strip: { title: p.title }
      },
      scales: {
        x: xAxis(p.xPos, p.xLab),
        y: yAxis(p.yPos, p.yLab)
      }
    },
    plugins: [stripPlugin]
  });
});
</script>
</body>
</html>
